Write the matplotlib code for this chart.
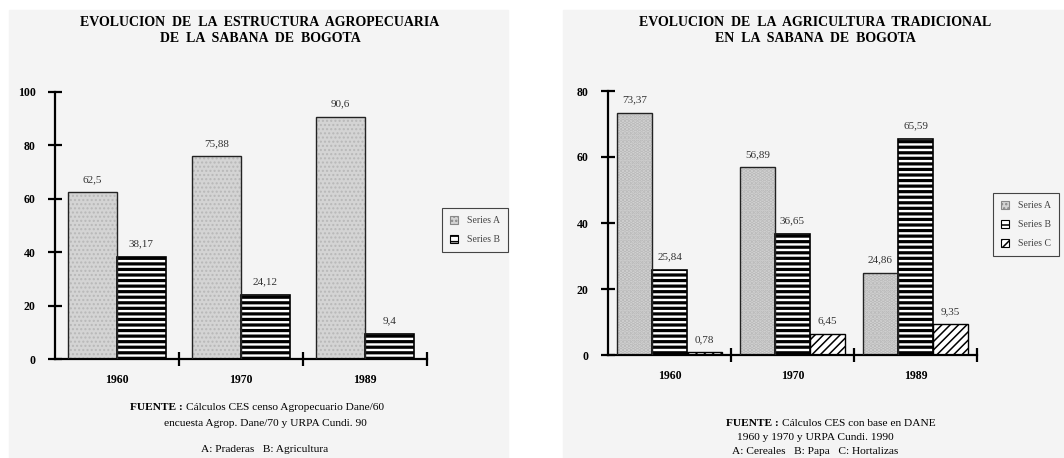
import matplotlib
matplotlib.use("Agg")
import matplotlib.pyplot as plt
from matplotlib.patches import Patch, Rectangle
import numpy as np

plt.rcParams["font.family"] = ["Liberation Serif", "DejaVu Serif"]

# data
years = ["1960", "1970", "1989"]
left_a = [62.5, 75.88, 90.6]
left_b = [38.17, 24.12, 9.4]
left_a_lbl = ["62,5", "75,88", "90,6"]
left_b_lbl = ["38,17", "24,12", "9,4"]

right_a = [73.37, 56.89, 24.86]
right_b = [25.84, 36.65, 65.59]
right_c = [0.78, 6.45, 9.35]
right_a_lbl = ["73,37", "56,89", "24,86"]
right_b_lbl = ["25,84", "36,65", "65,59"]
right_c_lbl = ["0,78", "6,45", "9,35"]

W, H = 1064, 458
PANEL = "#f4f4f4"
GRAY_FILL = "#d4d4d4"
GRAY_DOT = "#b8b8b8"


def fx(px):
    return px / W


def fy(py):
    return 1 - py / H


def set_hlw(bars, lw):
    for p in bars:
        if hasattr(p, "set_hatch_linewidth"):
            p.set_hatch_linewidth(lw)


def draw_series(ax, x, vals, width, style):
    if style == "A":
        ax.bar(x, vals, width, color=GRAY_FILL, edgecolor=GRAY_DOT,
               hatch="....", linewidth=0, zorder=2)
        ax.bar(x, vals, width, fill=False, edgecolor="#222222",
               linewidth=1.0, zorder=3)
    elif style == "B":
        plt.rcParams["hatch.linewidth"] = 2.3
        bars = ax.bar(x, vals, width, color="white", edgecolor="black",
                      hatch="---", linewidth=1.2, zorder=2)
        set_hlw(bars, 2.3)
    else:
        plt.rcParams["hatch.linewidth"] = 1.1
        bars = ax.bar(x, vals, width, color="white", edgecolor="black",
                      hatch="////", linewidth=1.0, zorder=2)
        set_hlw(bars, 1.1)


def style_axes(ax, ymax):
    ax.set_facecolor("none")
    ax.set_zorder(2)
    for s in ["top", "right"]:
        ax.spines[s].set_visible(False)
    for s in ["left", "bottom"]:
        ax.spines[s].set_linewidth(1.6)
    ax.set_xlim(0, 3)
    ax.set_ylim(0, ymax)
    ax.set_yticks(np.arange(0, ymax + 1, 20))
    ax.tick_params(axis="y", direction="inout", length=10, width=1.6,
                   labelsize=8.5, pad=9)
    for t in ax.get_yticklabels():
        t.set_fontweight("bold")
    ax.set_xticks([1, 2, 3])
    ax.set_xticklabels([])
    ax.tick_params(axis="x", which="major", direction="inout", length=10,
                   width=1.6)
    ax.set_xticks([0.5, 1.5, 2.5], minor=True)
    ax.set_xticklabels(years, minor=True, fontweight="bold", fontsize=8.5)
    ax.tick_params(axis="x", which="minor", length=0, pad=11)


def value_labels(ax, x, vals, labels):
    for xi, v, t in zip(x, vals, labels):
        ax.annotate(t, (xi, v), xytext=(0, 6), textcoords="offset points",
                    ha="center", va="bottom", fontsize=8, color="#333333")


fig = plt.figure(figsize=(W / 100, H / 100), dpi=100, facecolor="white")

# gray panels
fig.patches.append(Rectangle((fx(9), 0), fx(508) - fx(9), fy(10),
                             transform=fig.transFigure, color=PANEL, zorder=-10))
fig.patches.append(Rectangle((fx(563), 0), 1 - fx(563), fy(10),
                             transform=fig.transFigure, color=PANEL, zorder=-10))

# left chart
ax1 = fig.add_axes([fx(55), fy(359), fx(427) - fx(55), fy(92) - fy(359)])
cat = np.arange(3) + 0.5
bw = 0.395
draw_series(ax1, cat - bw / 2, left_a, bw, "A")
draw_series(ax1, cat + bw / 2, left_b, bw, "B")
style_axes(ax1, 100)
value_labels(ax1, cat - bw / 2, left_a, left_a_lbl)
value_labels(ax1, cat + bw / 2, left_b, left_b_lbl)

# right chart
ax2 = fig.add_axes([fx(608), fy(355), fx(977) - fx(608), fy(91) - fy(355)])
bw2 = 0.285
draw_series(ax2, cat - bw2, right_a, bw2, "A")
draw_series(ax2, cat, right_b, bw2, "B")
draw_series(ax2, cat + bw2, right_c, bw2, "C")
style_axes(ax2, 80)
value_labels(ax2, cat - bw2, right_a, right_a_lbl)
value_labels(ax2, cat, right_b, right_b_lbl)
value_labels(ax2, cat + bw2, right_c, right_c_lbl)

# titles
tfs = 10
fig.text(fx(260), fy(22), "EVOLUCION  DE  LA  ESTRUCTURA  AGROPECUARIA",
         ha="center", va="center", fontsize=tfs, fontweight="bold")
fig.text(fx(260), fy(38), "DE  LA  SABANA  DE  BOGOTA",
         ha="center", va="center", fontsize=tfs, fontweight="bold")
fig.text(fx(815), fy(22), "EVOLUCION  DE  LA  AGRICULTURA  TRADICIONAL",
         ha="center", va="center", fontsize=tfs, fontweight="bold")
fig.text(fx(815), fy(38), "EN  LA  SABANA  DE  BOGOTA",
         ha="center", va="center", fontsize=tfs, fontweight="bold")

# legends
pA = Patch(facecolor=GRAY_FILL, edgecolor="#888888", hatch="....", linewidth=0.8)
pB = Patch(facecolor="white", edgecolor="black", hatch="---", linewidth=0.8)
pC = Patch(facecolor="white", edgecolor="black", hatch="////", linewidth=0.8)
leg_kw = dict(loc="upper left", fontsize=7, frameon=True, fancybox=False,
              edgecolor="#444444", facecolor=PANEL, framealpha=1,
              handlelength=0.9, handleheight=0.9, handletextpad=0.9,
              labelspacing=1.0, borderpad=0.8, labelcolor="#444444")
l1 = fig.legend([pA, pB], ["Series A", "Series B"],
                bbox_to_anchor=(fx(437), fy(203)), **leg_kw)
l1.get_frame().set_linewidth(0.8)
l2 = fig.legend([pA, pB, pC], ["Series A", "Series B", "Series C"],
                bbox_to_anchor=(fx(988), fy(188)), **leg_kw)
l2.get_frame().set_linewidth(0.8)

# footnotes
fs = 8.2
fig.text(fx(183), fy(408), "FUENTE :", ha="right", va="center",
         fontsize=fs, fontweight="bold")
fig.text(fx(186), fy(408), "Cálculos CES censo Agropecuario Dane/60",
         ha="left", va="center", fontsize=fs)
fig.text(fx(265), fy(423), "encuesta Agrop. Dane/70 y URPA Cundi. 90",
         ha="center", va="center", fontsize=fs)
fig.text(fx(265), fy(449), "A: Praderas   B: Agricultura",
         ha="center", va="center", fontsize=fs)

fig.text(fx(779), fy(423), "FUENTE :", ha="right", va="center",
         fontsize=fs, fontweight="bold")
fig.text(fx(782), fy(423), "Cálculos CES con base en DANE",
         ha="left", va="center", fontsize=fs)
fig.text(fx(815), fy(437), "1960 y 1970 y URPA Cundi. 1990",
         ha="center", va="center", fontsize=fs)
fig.text(fx(815), fy(451), "A: Cereales   B: Papa   C: Hortalizas",
         ha="center", va="center", fontsize=fs)

fig.savefig("out.png", dpi=100, facecolor="white")
